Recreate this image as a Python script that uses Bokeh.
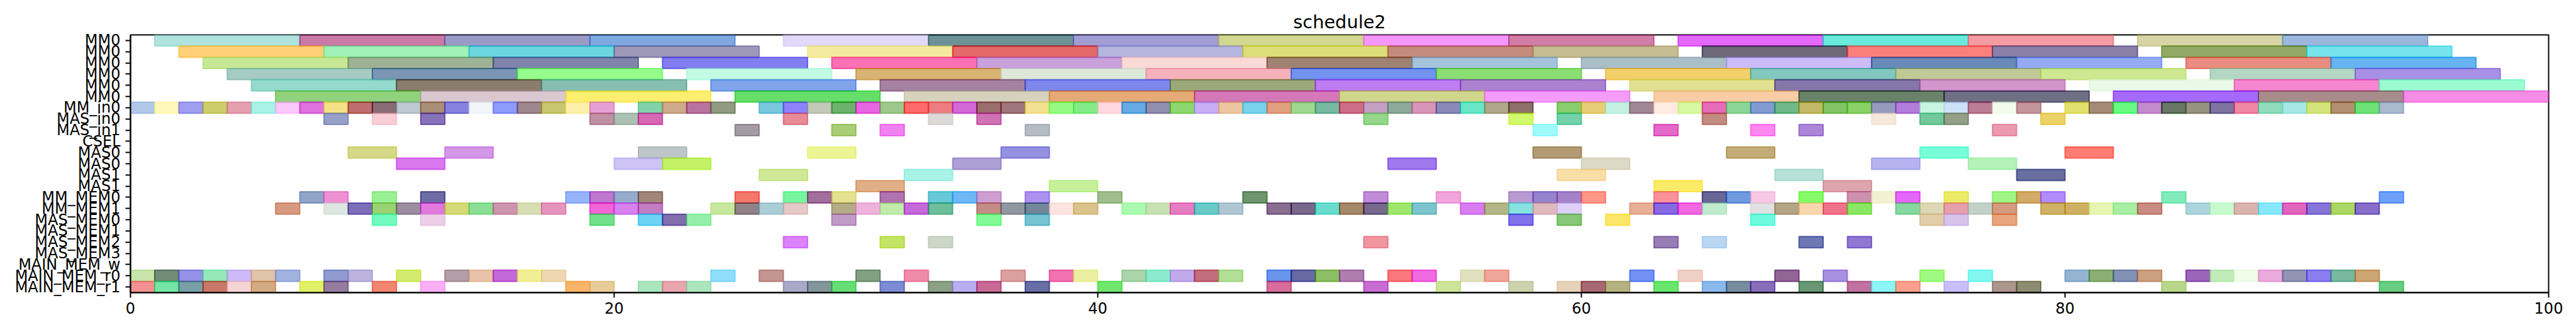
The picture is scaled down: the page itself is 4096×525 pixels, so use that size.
from bokeh.plotting import figure
from bokeh.models import ColumnDataSource, FixedTicker, Range1d
from bokeh.embed import file_html
from bokeh.resources import INLINE

# ---------------- data ----------------
row_labels = ["MM0", "MM0", "MM0", "MM0", "MM0", "MM0", "MM_in0", "MAS_in0", "MAS_in1", "CSEL",
              "MAS0", "MAS0", "MAS1", "MAS1", "MM_MEM0", "MM_MEM1", "MAS_MEM0", "MAS_MEM1",
              "MAS_MEM2", "MAS_MEM3", "MAIN_MEM_w", "MAIN_MEM_r0", "MAIN_MEM_r1"]
row_duration = [6, 6, 6, 6, 6, 6, 1, 1, 1, 1, 2, 2, 2, 2, 1, 1, 1, 1, 1, 1, 1, 1, 1]

mm0_a_start = [1, 7, 13, 19, 27, 33, 39, 45, 51, 57, 64, 70, 76, 83, 89]
mm0_a_color = ["#b0e2de", "#c879a6", "#9b9bc8", "#80a8e0", "#e1d9fa", "#6c9196", "#a29ed4", "#d2d791",
               "#f596fa", "#d07da8", "#e469fa", "#69ebdc", "#f59ba2", "#d7d5a5", "#9bb7dc"]
mm0_b_start = [2, 8, 14, 20, 28, 34, 40, 46, 52, 58, 65, 71, 77, 84, 90]
mm0_b_color = ["#ffd078", "#a0f2b9", "#6cd6de", "#9e98b9", "#f5eba0", "#e46969", "#b4b6de", "#dcde78",
               "#c48c7d", "#c6bc94", "#6e6a7a", "#fa807d", "#8a80a8", "#91aa64", "#76e4eb"]
mm0_c_start = [3, 9, 15, 22, 29, 35, 41, 47, 53, 60, 66, 72, 78, 85, 91]
mm0_c_color = ["#c6e896", "#9eb296", "#8084aa", "#827df0", "#ff70b4", "#c8a0da", "#fadad7", "#a08273",
               "#a5c3da", "#aabec8", "#cdbcf8", "#698ab9", "#94aaf2", "#eb8c82", "#64b4f2"]
mm0_d_start = [4, 10, 16, 23, 30, 36, 42, 48, 54, 61, 67, 73, 79, 86, 92]
mm0_d_color = ["#a5cbc3", "#7a96b4", "#96fc8c", "#c3fae4", "#d7b473", "#dee8da", "#f5b2bc", "#7391ee",
               "#8ade73", "#f2d06c", "#82c8be", "#c0ca96", "#cde891", "#b4d7c3", "#a891e4"]
mm0_e_start = [5, 11, 17, 24, 31, 37, 43, 49, 55, 62, 68, 74, 81, 87, 93]
mm0_e_color = ["#96dacd", "#8a7d6e", "#87beb4", "#80a5eb", "#a582a0", "#7d87eb", "#9ba87a", "#be7df2",
               "#ac82d0", "#e1e194", "#8776aa", "#d296cd", "#e8fae6", "#f587d0", "#9bfcd2"]
mm0_f_start = [6, 12, 18, 25, 32, 38, 44, 50, 56, 63, 69, 75, 82, 88, 94]
mm0_f_color = ["#91d27d", "#dac8d0", "#fcee6e", "#62de69", "#d7d2be", "#e6aa76", "#d478b9", "#d0d78c",
               "#f59bfa", "#f8cda5", "#698269", "#707084", "#a569fc", "#a88c8c", "#f58ce6"]

mm_in0_start = [0, 1, 2, 3, 4, 5, 6, 7, 8, 9, 10, 11, 12, 13, 14, 15, 16, 17, 18, 19, 21, 22, 23, 24,
                26, 27, 28, 29, 30, 31, 32, 33, 34, 35, 36, 37, 38, 39, 40, 41, 42, 43, 44, 45, 46, 47,
                48, 49, 50, 51, 52, 53, 54, 55, 56, 57, 59, 60, 61, 62, 63, 64, 65, 66, 67, 68, 69, 70,
                71, 72, 73, 74, 75, 76, 77, 78, 80, 81, 82, 83, 84, 85, 86, 87, 88, 89, 90, 91, 92, 93]
mm_in0_color = ["#b2c8e8", "#fff8b9", "#a09ef0", "#cdcd6e", "#e4a0af", "#a8f2e6", "#fac8fa", "#de73de",
                "#f5e187", "#be6e6e", "#876c73", "#bcc8d2", "#aa8e76", "#8782de", "#f2f5fa", "#8e9bfa",
                "#a0878e", "#c8c66e", "#fcf0aa", "#e6a0d4", "#82d2aa", "#cdaa8c", "#b973a0", "#919b82",
                "#7ac8de", "#8e82fa", "#c3c8b9", "#6cb26c", "#e864e1", "#9ec88c", "#ff6969", "#ee7d82",
                "#d269d7", "#9b6e6e", "#a0767d", "#f2e191", "#96fa82", "#82eb87", "#ffd7de", "#64aae4",
                "#918eaf", "#8cd76e", "#c8aff5", "#ebc6a0", "#78d2eb", "#e1a082", "#a0d791", "#76b9a0",
                "#cd6e87", "#c3a0c3", "#8eaa9b", "#d796b9", "#8a8ab9", "#69e6c8", "#afa88c", "#8c7069",
                "#8acd6e", "#e6cd78", "#c3f0e1", "#a28796", "#ffebe1", "#d7f8a0", "#e66cb9", "#8cd796",
                "#829bd2", "#6eb987", "#c3b964", "#82c35f", "#8ad264", "#969bbe", "#b47ddc", "#c8f5e1",
                "#cde1f8", "#b97d94", "#f2fceb", "#c3969b", "#e1e16e", "#a58c78", "#69fa82", "#c38ccd",
                "#697864", "#969480", "#7d73a0", "#f087a5", "#91dcbe", "#a5e8e6", "#d4e47d", "#b29173",
                "#6ee178", "#aab9cd"]

mas_in0_start = [8, 10, 12, 19, 20, 21, 27, 33, 35, 51, 57, 59, 65, 72, 74, 75, 79]
mas_in0_color = ["#96a0c8", "#f8cdd7", "#8773b9", "#c091a2", "#acc0b4", "#d769b4", "#e68c96", "#dcdad7",
                 "#d073b4", "#96d78c", "#d2f86e", "#73d2aa", "#c38c82", "#f5e8dc", "#73c89b", "#94a087",
                 "#ebd269"]
mas_in1_start = [25, 29, 31, 37, 58, 63, 67, 69, 77]
mas_in1_color = ["#a59ba5", "#aacd78", "#f082f0", "#b6bcc3", "#a0fafa", "#e469c8", "#ff87f0", "#ac87d7",
                 "#eb9baf"]
csel_start = []
csel_color = []

mas0_a_start = [9, 13, 21, 28, 36, 58, 66, 74, 80]
mas0_a_color = ["#d4da87", "#d496e6", "#bec6c8", "#ebf596", "#9491e1", "#b29b76", "#c3ac78", "#78ffd7",
                "#ff7d73"]
mas0_b_start = [11, 20, 22, 34, 52, 60, 72, 76]
mas0_b_color = ["#da78f0", "#cdc3f5", "#c3f269", "#aca0d7", "#9e7aee", "#dcdac6", "#b6b4f0", "#b4f2b9"]
mas1_a_start = [26, 32, 59, 68, 78]
mas1_a_color = ["#d0e896", "#a8f2e6", "#fadea8", "#b6e2d7", "#6970a0"]
mas1_b_start = [30, 38, 63, 70]
mas1_b_color = ["#e1af87", "#c6f09b", "#fceb69", "#dea5af"]

mm_mem0_start = [7, 8, 10, 12, 18, 19, 20, 21, 25, 27, 28, 29, 31, 33, 34, 35, 37, 40, 46, 51, 54, 57,
                 58, 59, 60, 63, 65, 66, 67, 69, 71, 72, 73, 75, 77, 78, 79, 84, 93]
mm_mem0_color = ["#91a5c8", "#ee91d2", "#9bf096", "#6e6ea5", "#96b4fa", "#be78cd", "#96accd", "#a08778",
                 "#f2786c", "#78f5a0", "#a26e9b", "#e4e191", "#af73af", "#69c8d7", "#6eb9f5", "#cd9ed2",
                 "#ac91f0", "#a0be8c", "#6e966e", "#c08cd7", "#f0a5dc", "#b99bd2", "#9682cd", "#a582c8",
                 "#ff9687", "#fa919b", "#696696", "#709bde", "#f8c8e6", "#87fa69", "#cd91af", "#f2f2d2",
                 "#e464fa", "#ebeb69", "#a0f587", "#d2aa69", "#b28cfa", "#82ebb9", "#6ea0fa"]
mm_mem1_start = [6, 8, 9, 10, 11, 12, 13, 14, 15, 16, 17, 19, 20, 21, 24,
                 25, 26, 27, 29, 30, 31, 32, 33, 35, 36, 37, 38, 39, 41, 42, 43, 44, 45, 47, 48, 49,
                 50, 51, 52, 53, 55, 56, 57, 58, 59, 62, 63, 64, 65, 67, 68, 69, 70, 71, 73, 74,
                 75, 76, 77, 79, 80, 81, 82, 83, 85, 86, 87, 88, 89, 90, 91, 92]
mm_mem1_color = ["#d79b82", "#dee6e1", "#7d6eb9", "#9bd273", "#9b8ea0", "#e178dc", "#d4da78", "#8cde96",
                 "#cd96af", "#d7deb4", "#e496be", "#f05fd7", "#d782f0", "#c37dc3", "#c8e8a0",
                 "#918287", "#aacdd7", "#e6c8c8", "#b4ac87", "#eeb2dc", "#c0ebaa", "#c669da", "#6ebe9b",
                 "#c38c87", "#9198a0", "#73879b", "#fce4e1", "#dac38c", "#acfab2", "#c8e1b4", "#e67dc3",
                 "#69c8c8", "#afc6d2", "#8a6e91", "#78698c", "#69dccd",
                 "#a58769", "#76698c", "#a0e66e", "#7dc3cd", "#d77df0", "#b2b687", "#87e1e1", "#deb9be",
                 "#ded0f8", "#e6af96", "#8769e1", "#f069e1", "#c0ebcd", "#e1e1e1", "#b4a587", "#f8d7af",
                 "#f0738c", "#8ce664", "#87d7a0", "#dcd7b4",
                 "#e6a0aa", "#c3d2c8", "#d49b82", "#d0b264", "#cfb164", "#e6f5b4", "#a8eea5", "#c88c82",
                 "#acd4dc", "#c8facd", "#dab4af", "#87e8fa", "#e164be", "#8776d7", "#acd764", "#876ec8"]

mas_mem0_start = [10, 12, 19, 21, 22, 23, 29, 35, 37, 57, 59, 61, 67, 74, 75, 77]
mas_mem0_color = ["#73fabe", "#eecde8", "#73e18c", "#6ed2f5", "#806eaf", "#96f0aa", "#c09bc8", "#82fa96",
                  "#78c3d2", "#8273eb", "#87c878", "#fce669", "#6efadc", "#e1cdaa", "#d7c3eb", "#e8a57d"]
mas_mem1_start = []
mas_mem1_color = []
mas_mem2_start = [27, 31, 33, 51, 63, 65, 69, 71]
mas_mem2_color = ["#dc82fa", "#c3e45f", "#cdd7c8", "#f096a0", "#987db4", "#b9d7f0", "#6e78b4", "#9178d2"]
mas_mem3_start = []
mas_mem3_color = []
main_mem_w_start = []
main_mem_w_color = []

main_mem_r0_start = [0, 1, 2, 3, 4, 5, 6, 8, 9, 11, 13, 14, 15, 16, 17, 24,
                     26, 30, 32, 36, 38, 39, 41, 42, 43, 44, 45, 47, 48, 49,
                     50, 52, 53, 55, 56, 62, 64, 68, 70, 74,
                     76, 80, 81, 82, 83, 85, 86, 87, 88, 89, 90, 91, 92]
main_mem_r0_color = ["#c8e4aa", "#738c78", "#9691e8", "#94e8b9", "#cdb9f5", "#e1c3aa", "#a2b2e1", "#919bd2",
                     "#bcb4de", "#d4eb6e", "#b49ea8", "#e8c3aa", "#c369d7", "#f2ee96", "#eed7b2", "#91defa",
                     "#c39691", "#82a082", "#f08caa", "#dca0a0", "#f073af", "#ebf0a0", "#aad4aa", "#8cebcd",
                     "#c0aaeb", "#c36e7d", "#b2de96", "#6996eb", "#6969a5", "#8cbe64",
                     "#af7daf", "#fa787d", "#f069e1", "#e1e1c0", "#f0a59b", "#7391f5", "#f0d0c6", "#916496",
                     "#a891e1", "#a0fa82",
                     "#82f8f0", "#94b4d2", "#8caf78", "#8291b4", "#cda082", "#9b64b9", "#c0ebb9", "#eefce8",
                     "#ebaadc", "#9194b4", "#8c7df0", "#78b9a0", "#cda573"]
main_mem_r1_start = [0, 1, 2, 3, 4, 5, 7, 8, 10, 12, 18, 19, 21, 22, 23,
                     27, 28, 29, 31, 33, 34, 35, 37, 40, 47,
                     51, 54, 57, 59, 60, 61, 63, 65, 66, 67, 69, 71, 72, 73,
                     75, 77, 78, 84, 93]
main_mem_r1_color = ["#f29191", "#73e6a5", "#7aa0a5", "#c87869", "#f5d4d4", "#d4aa82", "#e1f064", "#967da0",
                     "#f08773", "#faaff5", "#f8b469", "#e8cd9b", "#aae6be", "#e8a5af", "#ace6be",
                     "#aaaac8", "#82969b", "#69dc78", "#7d8cd2", "#8ca087", "#b9aff0", "#c86996", "#696ea5",
                     "#73e66e", "#d76e9b",
                     "#c86ed2", "#cde49b", "#cdd2af", "#e4d2b9", "#a56973", "#b4b282", "#69e66e", "#8cb9eb",
                     "#788ca0", "#876eb9", "#699673", "#be73a0", "#8cf5f5", "#faa08c",
                     "#c8befa", "#aa968c", "#8c8c73", "#b9d78c", "#69cd82"]

x_ticks = [0, 20, 40, 60, 80, 100]
title_text = "schedule2"

row_starts = [mm0_a_start, mm0_b_start, mm0_c_start, mm0_d_start, mm0_e_start, mm0_f_start,
              mm_in0_start, mas_in0_start, mas_in1_start, csel_start,
              mas0_a_start, mas0_b_start, mas1_a_start, mas1_b_start,
              mm_mem0_start, mm_mem1_start, mas_mem0_start, mas_mem1_start, mas_mem2_start,
              mas_mem3_start, main_mem_w_start, main_mem_r0_start, main_mem_r1_start]
row_colors = [mm0_a_color, mm0_b_color, mm0_c_color, mm0_d_color, mm0_e_color, mm0_f_color,
              mm_in0_color, mas_in0_color, mas_in1_color, csel_color,
              mas0_a_color, mas0_b_color, mas1_a_color, mas1_b_color,
              mm_mem0_color, mm_mem1_color, mas_mem0_color, mas_mem1_color, mas_mem2_color,
              mas_mem3_color, main_mem_w_color, main_mem_r0_color, main_mem_r1_color]

# ---------------- build ----------------
ALPHA = 0.6


def base_color(hexcol):
    # colours above are as seen over white; recover the colour drawn with ALPHA
    h = hexcol.lstrip("#")
    rgb = [int(h[i:i + 2], 16) for i in (0, 2, 4)]
    out = []
    for c in rgb:
        v = (c - (1 - ALPHA) * 255) / ALPHA
        out.append(int(max(0, min(255, round(v)))))
    return "#%02x%02x%02x" % tuple(out)


ys, lefts, rights, cols = [], [], [], []
for i, (starts, colors) in enumerate(zip(row_starts, row_colors)):
    for s, c in zip(starts, colors):
        ys.append(i)
        lefts.append(s)
        rights.append(s + row_duration[i])
        cols.append(base_color(c))

src = ColumnDataSource(dict(y=ys, left=lefts, right=rights, color=cols))

FONT = "DejaVu Sans"

p = figure(output_backend="svg", toolbar_location=None,
           frame_width=3845, frame_height=410,
           x_range=Range1d(0, 100), y_range=Range1d(len(row_labels) - 0.5, -0.5),
           min_border_left=207, min_border_right=36, min_border_top=55, min_border_bottom=52,
           title=title_text)

p.hbar(y="y", left="left", right="right", height=1.0, source=src,
       fill_color="color", fill_alpha=ALPHA, line_color="color", line_alpha=ALPHA, line_width=2.0)

p.title.align = "center"
p.title.text_font = FONT
p.title.text_font_size = "28.8px"
p.title.text_font_style = "normal"
p.title.text_color = "black"
p.title.standoff = 7

p.xgrid.visible = False
p.ygrid.visible = False
p.outline_line_color = "black"
p.outline_line_width = 2
p.outline_line_alpha = 1.0
p.background_fill_color = "white"
p.border_fill_color = "white"

p.xaxis.ticker = FixedTicker(ticks=x_ticks)
p.yaxis.ticker = FixedTicker(ticks=list(range(len(row_labels))))
p.yaxis.major_label_overrides = {i: lab for i, lab in enumerate(row_labels)}

for ax in (p.xaxis, p.yaxis):
    ax.major_label_text_font = FONT
    ax.major_label_text_font_size = "24px"
    ax.major_label_text_color = "black"
    ax.axis_line_width = 2
    ax.axis_line_color = "black"
    ax.major_tick_line_width = 2
    ax.major_tick_line_color = "black"
    ax.major_tick_out = 8
    ax.major_tick_in = 0
    ax.minor_tick_line_color = None

p.xaxis.major_label_standoff = 7
p.yaxis.major_label_standoff = 8

open("out.html", "w").write(file_html(p, INLINE))
